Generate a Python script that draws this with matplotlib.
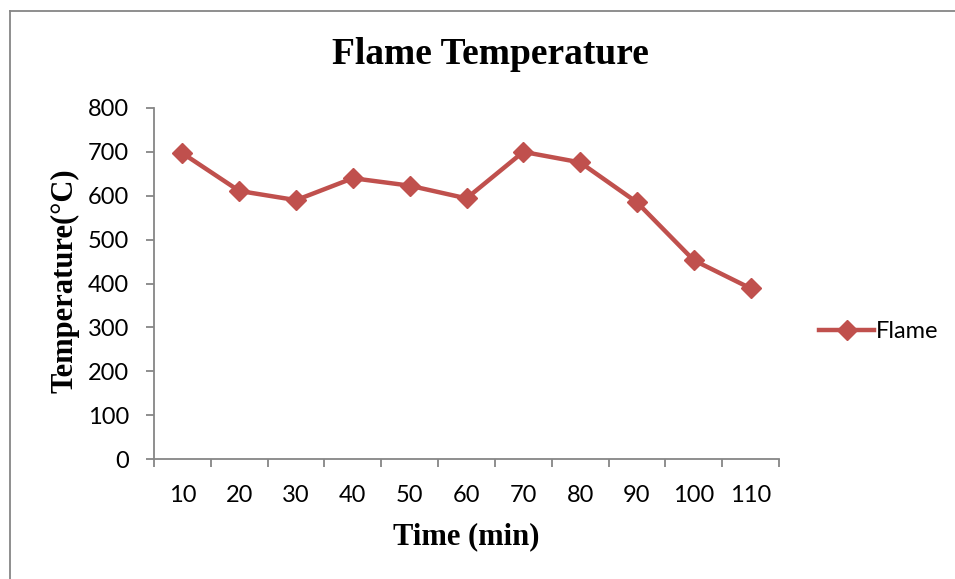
import matplotlib
matplotlib.use("Agg")
import matplotlib.pyplot as plt
from matplotlib.lines import Line2D
import numpy as np

categories = ["10", "20", "30", "40", "50", "60", "70", "80", "90", "100", "110"]
flame = [697, 611, 590, 640, 623, 594, 700, 676, 585, 453, 389]
y_ticks = [0, 100, 200, 300, 400, 500, 600, 700, 800]

W, H = 955, 579
fig = plt.figure(figsize=(W / 100, H / 100), dpi=100)
ax = fig.add_axes([154 / W, 1 - 459 / H, (779 - 154) / W, (459 - 108) / H])

color = "#C0504D"
grey = "#868686"
tick_font = "Lato"
serif = "Liberation Serif"
fs = 17

x = np.arange(len(categories))
ax.plot(x, flame, color=color, lw=3.2, marker="D", ms=9.8, mec=color, mfc=color,
        label="Flame", solid_joinstyle="round")

ax.set_xlim(-0.5, len(categories) - 0.5)
ax.set_ylim(0, 800)
ax.set_yticks(y_ticks)
ax.set_yticklabels([str(v) for v in y_ticks], fontfamily=tick_font, fontsize=fs)
ax.set_xticks(np.arange(-0.5, len(categories), 1.0))
ax.set_xticklabels([])
ax.set_xticks(x, minor=True)
ax.set_xticklabels(categories, minor=True, fontfamily=tick_font, fontsize=fs)
ax.tick_params(axis="x", which="minor", length=0, pad=19)
ax.tick_params(axis="x", which="major", length=6, width=1.3, color=grey, direction="out")
ax.tick_params(axis="y", length=6, width=1.3, color=grey, direction="out", pad=12)

for s in ["top", "right"]:
    ax.spines[s].set_visible(False)
for s in ["left", "bottom"]:
    ax.spines[s].set_color(grey)
    ax.spines[s].set_linewidth(1.3)

fig.text(490 / W, 1 - 55 / H, "Flame Temperature", fontfamily=serif, fontweight="bold",
         fontsize=27, ha="center", va="center")
fig.text(65 / W, 1 - 281 / H, "Temperature(°C)", fontfamily=serif, fontweight="bold",
         fontsize=22, ha="center", va="center", rotation=90)
fig.text(466 / W, 1 - 537 / H, "Time (min)", fontfamily=serif, fontweight="bold",
         fontsize=22, ha="center", va="center")

leg = fig.legend(loc="center left", bbox_to_anchor=(810 / W, 1 - 332 / H), frameon=False,
                 handlelength=2.3, handletextpad=0.1, prop={"family": tick_font, "size": fs},
                 borderaxespad=0)

fig.add_artist(Line2D([10 / W, 10 / W], [1 - 11 / H, 0], transform=fig.transFigure,
                      color=grey, lw=1.3))
fig.add_artist(Line2D([10 / W, 1], [1 - 11 / H, 1 - 11 / H], transform=fig.transFigure,
                      color=grey, lw=1.3))

fig.savefig("out.png", dpi=100)
